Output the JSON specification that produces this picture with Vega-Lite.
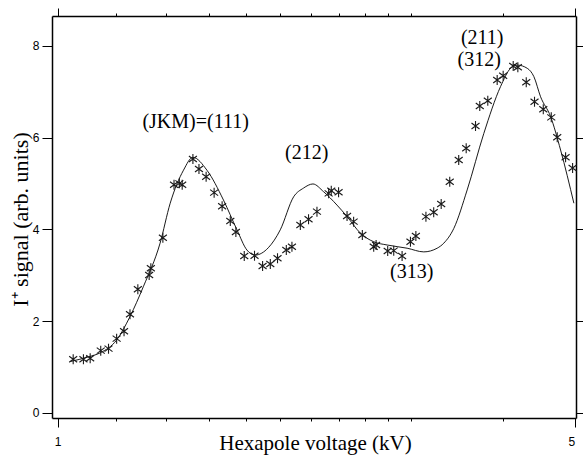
{
  "$schema": "https://vega.github.io/schema/vega-lite/v6.json",
  "width": 524,
  "height": 402,
  "autosize": {"type": "none"},
  "padding": {"left": 52, "top": 16, "right": 7, "bottom": 40},
  "background": "white",
  "config": {
    "view": {"stroke": null},
    "axis": {
      "labelFont": "Liberation Sans",
      "labelFontSize": 12,
      "labelColor": "black",
      "titleFont": "Liberation Serif, Times New Roman, serif",
      "titleFontWeight": "normal",
      "titleColor": "black",
      "domainColor": "black",
      "domainWidth": 1.5,
      "tickColor": "black",
      "tickWidth": 1,
      "grid": false
    }
  },
  "datasets": {
    "points": [
      {"voltage": 1.050, "signal": 1.170},
      {"voltage": 1.084, "signal": 1.170},
      {"voltage": 1.107, "signal": 1.192},
      {"voltage": 1.144, "signal": 1.357},
      {"voltage": 1.172, "signal": 1.401},
      {"voltage": 1.202, "signal": 1.619},
      {"voltage": 1.230, "signal": 1.780},
      {"voltage": 1.253, "signal": 2.150},
      {"voltage": 1.284, "signal": 2.695},
      {"voltage": 1.330, "signal": 3.007},
      {"voltage": 1.337, "signal": 3.152},
      {"voltage": 1.388, "signal": 3.819},
      {"voltage": 1.437, "signal": 4.974},
      {"voltage": 1.461, "signal": 5.004},
      {"voltage": 1.474, "signal": 4.974},
      {"voltage": 1.524, "signal": 5.534},
      {"voltage": 1.553, "signal": 5.316},
      {"voltage": 1.588, "signal": 5.148},
      {"voltage": 1.628, "signal": 4.800},
      {"voltage": 1.669, "signal": 4.503},
      {"voltage": 1.712, "signal": 4.183},
      {"voltage": 1.742, "signal": 3.943},
      {"voltage": 1.788, "signal": 3.420},
      {"voltage": 1.846, "signal": 3.427},
      {"voltage": 1.893, "signal": 3.203},
      {"voltage": 1.939, "signal": 3.246},
      {"voltage": 1.983, "signal": 3.370},
      {"voltage": 2.038, "signal": 3.551},
      {"voltage": 2.074, "signal": 3.623},
      {"voltage": 2.129, "signal": 4.096},
      {"voltage": 2.184, "signal": 4.220},
      {"voltage": 2.242, "signal": 4.386},
      {"voltage": 2.325, "signal": 4.786},
      {"voltage": 2.344, "signal": 4.843},
      {"voltage": 2.398, "signal": 4.808},
      {"voltage": 2.462, "signal": 4.292},
      {"voltage": 2.513, "signal": 4.168},
      {"voltage": 2.582, "signal": 3.878},
      {"voltage": 2.675, "signal": 3.623},
      {"voltage": 2.695, "signal": 3.660},
      {"voltage": 2.794, "signal": 3.529},
      {"voltage": 2.847, "signal": 3.536},
      {"voltage": 2.922, "signal": 3.420},
      {"voltage": 2.999, "signal": 3.732},
      {"voltage": 3.050, "signal": 3.856},
      {"voltage": 3.147, "signal": 4.277},
      {"voltage": 3.224, "signal": 4.373},
      {"voltage": 3.300, "signal": 4.553},
      {"voltage": 3.389, "signal": 5.039},
      {"voltage": 3.485, "signal": 5.512},
      {"voltage": 3.567, "signal": 5.767},
      {"voltage": 3.672, "signal": 6.253},
      {"voltage": 3.721, "signal": 6.688},
      {"voltage": 3.815, "signal": 6.804},
      {"voltage": 3.928, "signal": 7.255},
      {"voltage": 4.002, "signal": 7.349},
      {"voltage": 4.129, "signal": 7.560},
      {"voltage": 4.189, "signal": 7.532},
      {"voltage": 4.300, "signal": 7.205},
      {"voltage": 4.412, "signal": 6.782},
      {"voltage": 4.534, "signal": 6.617},
      {"voltage": 4.648, "signal": 6.442},
      {"voltage": 4.735, "signal": 6.007},
      {"voltage": 4.860, "signal": 5.571},
      {"voltage": 4.967, "signal": 5.338}
    ],
    "curve": [
      {"voltage": 1.040, "signal": 1.12},
      {"voltage": 1.100, "signal": 1.22},
      {"voltage": 1.142, "signal": 1.31},
      {"voltage": 1.202, "signal": 1.59},
      {"voltage": 1.253, "signal": 2.10},
      {"voltage": 1.306, "signal": 2.75},
      {"voltage": 1.376, "signal": 3.70},
      {"voltage": 1.420, "signal": 4.57},
      {"voltage": 1.480, "signal": 5.29},
      {"voltage": 1.524, "signal": 5.57},
      {"voltage": 1.592, "signal": 5.29},
      {"voltage": 1.676, "signal": 4.64},
      {"voltage": 1.748, "signal": 3.99},
      {"voltage": 1.803, "signal": 3.55},
      {"voltage": 1.850, "signal": 3.44},
      {"voltage": 1.927, "signal": 3.60},
      {"voltage": 2.000, "signal": 3.99},
      {"voltage": 2.085, "signal": 4.71},
      {"voltage": 2.150, "signal": 4.90},
      {"voltage": 2.214, "signal": 4.99},
      {"voltage": 2.289, "signal": 4.82},
      {"voltage": 2.386, "signal": 4.53},
      {"voltage": 2.462, "signal": 4.28},
      {"voltage": 2.566, "signal": 3.92},
      {"voltage": 2.675, "signal": 3.73},
      {"voltage": 2.789, "signal": 3.66},
      {"voltage": 2.968, "signal": 3.59},
      {"voltage": 3.126, "signal": 3.51},
      {"voltage": 3.259, "signal": 3.59},
      {"voltage": 3.327, "signal": 3.70},
      {"voltage": 3.432, "signal": 4.02},
      {"voltage": 3.578, "signal": 4.86},
      {"voltage": 3.768, "signal": 6.09},
      {"voltage": 3.969, "signal": 7.11},
      {"voltage": 4.095, "signal": 7.51},
      {"voltage": 4.181, "signal": 7.58},
      {"voltage": 4.314, "signal": 7.51},
      {"voltage": 4.403, "signal": 7.33},
      {"voltage": 4.496, "signal": 6.89},
      {"voltage": 4.638, "signal": 6.46},
      {"voltage": 4.785, "signal": 5.73},
      {"voltage": 4.987, "signal": 4.57}
    ],
    "labels": [
      {"voltage": 1.537, "signal": 6.34, "label": "(JKM)=(111)"},
      {"voltage": 2.172, "signal": 5.664, "label": "(212)"},
      {"voltage": 3.011, "signal": 3.061, "label": "(313)"},
      {"voltage": 3.749, "signal": 8.17, "label": "(211)"},
      {"voltage": 3.715, "signal": 7.691, "label": "(312)"}
    ]
  },
  "layer": [
    {
      "data": {"name": "curve"},
      "mark": {"type": "line", "color": "black", "strokeWidth": 0.9, "interpolate": "monotone"},
      "encoding": {
        "x": {
          "field": "voltage",
          "type": "quantitative",
          "scale": {"type": "log", "domain": [0.983, 5.02], "nice": false},
          "axis": {
            "orient": "bottom",
            "values": [1, 1.2, 1.4, 1.6, 1.8, 2, 2.2, 2.4, 2.6, 2.8, 3, 4, 5],
            "tickSize": {"condition": {"test": "datum.value == 1 || datum.value == 5", "value": 9}, "value": 3},
            "labelExpr": "datum.value == 1 ? '1' : (datum.value == 5 ? '5' : '')",
            "labelAlign": {"condition": {"test": "datum.value == 5", "value": "right"}, "value": "center"},
            "labelPadding": 9,
            "labelFlush": false,
            "labelOverlap": false,
            "title": "Hexapole voltage (kV)",
            "titleFontSize": 21,
            "titleX": 263,
            "titleY": 25,
            "titleAlign": "center",
            "titleBaseline": "middle"
          }
        },
        "y": {
          "field": "signal",
          "type": "quantitative",
          "scale": {"domain": [-0.11, 8.65], "nice": false, "zero": false},
          "axis": {
            "orient": "left",
            "values": [0, 2, 4, 6, 8],
            "tickSize": 10,
            "labelPadding": 3,
            "title": "I⁺ signal (arb. units)",
            "titleFontSize": 22,
            "titleAngle": 270,
            "titleX": -32,
            "titleY": 203,
            "titleAlign": "center",
            "titleBaseline": "middle"
          }
        }
      }
    },
    {
      "data": {"name": "points"},
      "mark": {
        "type": "point",
        "shape": "M0,-1L0,1M-0.8,-0.6L0.8,0.6M-0.8,0.6L0.8,-0.6",
        "filled": false,
        "stroke": "#1a1a1a",
        "strokeWidth": 1.1,
        "size": 100,
        "opacity": 1
      },
      "encoding": {
        "x": {
          "field": "voltage",
          "type": "quantitative",
          "axis": {
            "orient": "top",
            "values": [1, 1.2, 1.4, 1.6, 1.8, 2, 2.2, 2.4, 2.6, 2.8, 3, 4, 5],
            "tickSize": {"condition": {"test": "datum.value == 1 || datum.value == 5", "value": 8}, "value": 3},
            "labels": false,
            "title": null
          }
        },
        "y": {
          "field": "signal",
          "type": "quantitative",
          "axis": {
            "orient": "right",
            "values": [0, 2, 4, 6, 8],
            "tickSize": 8,
            "labels": false,
            "title": null
          }
        }
      }
    },
    {
      "data": {"name": "labels"},
      "mark": {"type": "text", "font": "Liberation Serif, Times New Roman, serif", "fontSize": 20, "color": "black", "baseline": "middle", "align": "center"},
      "encoding": {
        "x": {"field": "voltage", "type": "quantitative", "axis": null},
        "y": {"field": "signal", "type": "quantitative", "axis": null},
        "text": {"field": "label"}
      }
    }
  ],
  "resolve": {"axis": {"x": "independent", "y": "independent"}}
}
